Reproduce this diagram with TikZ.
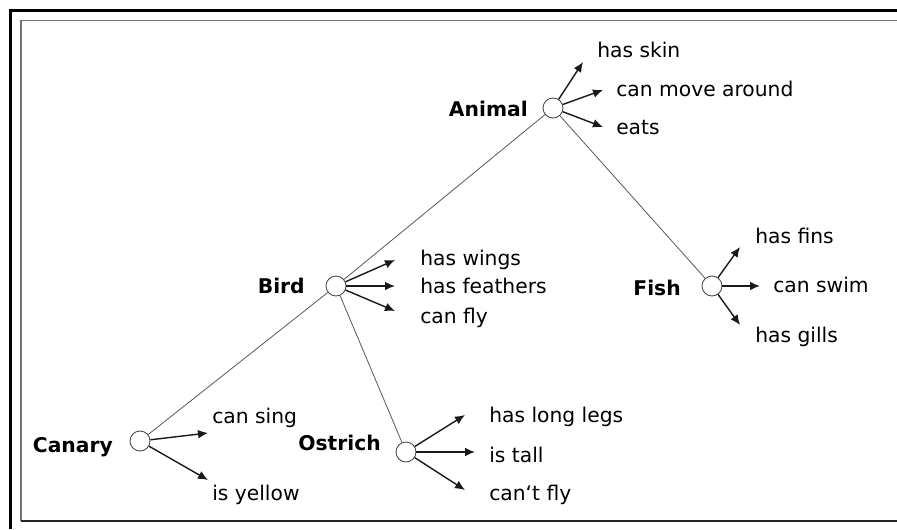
\documentclass[tikz,border=0pt]{standalone}
\usepackage{fontspec}
\setmainfont{DejaVu Sans}
\usetikzlibrary{arrows.meta}
\begin{document}
\begin{tikzpicture}[x=0.75pt,y=-0.75pt,
  concept/.style={circle,draw=black!75,fill=white,minimum size=15pt,inner sep=0pt,line width=0.6pt},
  lbl/.style={font=\bfseries\fontsize{15.2}{18}\selectfont,anchor=base east,inner sep=0pt},
  attr/.style={font=\fontsize{15.2}{18}\selectfont,anchor=base west,inner sep=0pt},
  isa/.style={draw=black!65,line width=0.6pt},
  prop/.style={draw=black!90,line width=1.05pt,-{Latex[length=7.5pt,width=6.5pt]}}]
\useasboundingbox (0,0) rectangle (897,529);
\fill[white] (0,0) rectangle (897,529);
% frames
\draw[line width=2.2pt] (10.5,529) -- (10.5,10.5) -- (897,10.5);
\draw[black!55,line width=1.1pt] (897,20.5) -- (21,20.5) -- (21,521);
\draw[black!85,line width=1.1pt] (21,521) -- (897,521);
% concept nodes
\node[concept] (animal) at (553,108) {};
\node[concept] (bird) at (336,286) {};
\node[concept] (fish) at (712,286) {};
\node[concept] (canary) at (140,441) {};
\node[concept] (ostrich) at (406,452) {};
% labels
\node[lbl] (lanimal) at (528,116) {Animal};
\node[lbl] (lbird) at (305,293) {Bird};
\node[lbl] (lfish) at (681,295) {Fish};
\node[lbl] (lcanary) at (113,452) {Canary};
\node[lbl] (lostrich) at (381,450) {Ostrich};
% isa links
\draw[isa] (animal) -- (bird);
\draw[isa] (animal) -- (fish);
\draw[isa] (bird) -- (canary);
\draw[isa] (bird) -- (ostrich);
% arrow end points
\coordinate (a1) at (583,62);
\coordinate (a2) at (603,90);
\coordinate (a3) at (603,127);
\coordinate (b1) at (395,260);
\coordinate (b2) at (395,286);
\coordinate (b3) at (395,311);
\coordinate (f1) at (740,247);
\coordinate (f2) at (760,286);
\coordinate (f3) at (740,325);
\coordinate (c1) at (208,433);
\coordinate (c2) at (208,480);
\coordinate (o1) at (465,415);
\coordinate (o2) at (475,452);
\coordinate (o3) at (465,490);
% property arrows
\draw[prop] (animal) -- (a1);
\draw[prop] (animal) -- (a2);
\draw[prop] (animal) -- (a3);
\draw[prop] (bird) -- (b1);
\draw[prop] (bird) -- (b2);
\draw[prop] (bird) -- (b3);
\draw[prop] (fish) -- (f1);
\draw[prop] (fish) -- (f2);
\draw[prop] (fish) -- (f3);
\draw[prop] (canary) -- (c1);
\draw[prop] (canary) -- (c2);
\draw[prop] (ostrich) -- (o1);
\draw[prop] (ostrich) -- (o2);
\draw[prop] (ostrich) -- (o3);
% property texts
\node[attr] (ta1) at (597,57) {has skin};
\node[attr] (ta2) at (616,96) {can move around};
\node[attr] (ta3) at (616,134) {eats};
\node[attr] (tb1) at (420,265) {has wings};
\node[attr] (tb2) at (420,293) {has feathers};
\node[attr] (tb3) at (420,323) {can fly};
\node[attr] (tf1) at (755,243) {has fins};
\node[attr] (tf2) at (773,292) {can swim};
\node[attr] (tf3) at (755,342) {has gills};
\node[attr] (tc1) at (212,423) {can sing};
\node[attr] (tc2) at (212,500) {is yellow};
\node[attr] (to1) at (489,422) {has long legs};
\node[attr] (to2) at (489,462) {is tall};
\node[attr] (to3) at (489,500) {can‘t fly};
\end{tikzpicture}
\end{document}
